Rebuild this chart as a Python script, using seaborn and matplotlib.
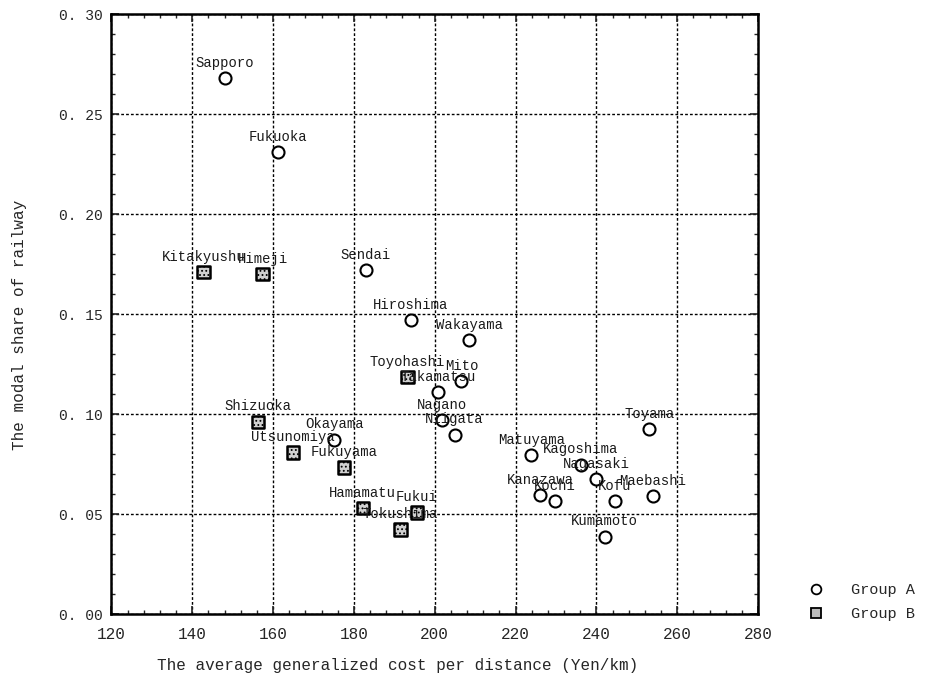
import matplotlib
matplotlib.use("Agg")
import matplotlib.pyplot as plt
from matplotlib.ticker import MultipleLocator
from matplotlib.lines import Line2D
import pandas as pd
import seaborn as sns

# Group A cities (open circles)
cities_a = ['Sapporo', 'Fukuoka', 'Sendai', 'Hiroshima', 'Wakayama', 'Mito',
            'Takamatsu', 'Nagano', 'Niigata', 'Okayama', 'Matuyama', 'Kagoshima',
            'Nagasaki', 'Kanazawa', 'Kochi', 'Kofu', 'Maebashi', 'Toyama', 'Kumamoto']
cost_a = [148.0, 161.2, 182.9, 194.1, 208.5, 206.6, 200.8, 201.8, 204.9, 175.1,
          223.9, 236.1, 239.9, 226.1, 229.8, 244.5, 254.0, 253.1, 242.0]
share_a = [0.268, 0.231, 0.172, 0.147, 0.137, 0.1165, 0.111, 0.097, 0.0897, 0.0873,
           0.0795, 0.0747, 0.0673, 0.0593, 0.0563, 0.0565, 0.059, 0.0925, 0.0387]

# Group B cities (hatched squares)
cities_b = ['Kitakyushu', 'Himeji', 'Toyohashi', 'Shizuoka', 'Utsunomiya',
            'Fukuyama', 'Hamamatu', 'Fukui', 'Tokushima']
cost_b = [142.8, 157.4, 193.3, 156.3, 165.0, 177.6, 182.2, 195.6, 191.5]
share_b = [0.171, 0.170, 0.1185, 0.0962, 0.0807, 0.0732, 0.0529, 0.0508, 0.0423]

xticks = [120, 140, 160, 180, 200, 220, 240, 260, 280]
yticks = [0.00, 0.05, 0.10, 0.15, 0.20, 0.25, 0.30]
ytick_labels = ['0. 00', '0. 05', '0. 10', '0. 15', '0. 20', '0. 25', '0. 30']

df_a = pd.DataFrame({'city': cities_a, 'cost': cost_a, 'share': share_a})
df_b = pd.DataFrame({'city': cities_b, 'cost': cost_b, 'share': share_b})

sns.set_style('ticks')
plt.rcParams['font.family'] = ['Liberation Mono', 'DejaVu Sans']
plt.rcParams['hatch.linewidth'] = 0.8

fig = plt.figure(figsize=(9.28, 6.8), dpi=100)
ax = fig.add_axes([0.120, 0.097, 0.697, 0.882])

sns.scatterplot(data=df_a, x='cost', y='share', ax=ax, marker='o', s=75,
                facecolor='white', edgecolor='black', linewidth=1.5, zorder=3)
sns.scatterplot(data=df_b, x='cost', y='share', ax=ax, marker='s', s=80,
                facecolor='#d0d0d0', edgecolor='black', linewidth=1.8, zorder=3)
ax.collections[-1].set_hatch('....')

for df in (df_a, df_b):
    for _, r in df.iterrows():
        ax.annotate(r['city'], (r['cost'], r['share']), xytext=(0, 11),
                    textcoords='offset points', ha='center', va='center',
                    fontsize=10, color='#1a1a1a', zorder=4)

ax.set_xlim(120, 280)
ax.set_ylim(0, 0.30)
ax.set_xticks(xticks)
ax.set_yticks(yticks)
ax.set_yticklabels(ytick_labels)
ax.xaxis.set_minor_locator(MultipleLocator(4))
ax.yaxis.set_minor_locator(MultipleLocator(0.01))
ax.tick_params(which='both', direction='in', top=True, right=True, labelsize=10.5)
ax.tick_params(which='major', length=6, width=1.2)
ax.tick_params(axis='x', which='major', pad=9, labelsize=11.5)
ax.tick_params(axis='y', which='major', pad=6)
ax.tick_params(which='minor', length=3, width=1.0)
ax.grid(True, which='major', color='black', linestyle=(0, (2, 1.5)), linewidth=1.0)
for s in ax.spines.values():
    s.set_linewidth(1.8)
    s.set_color('black')

ax.set_xlabel('The average generalized cost per distance (Yen/km)', fontsize=11.5)
ax.set_ylabel('The modal share of railway', fontsize=11.5)
ax.xaxis.set_label_coords(0.443, -0.073)
ax.yaxis.set_label_coords(-0.130, 0.482)

handles = [
    Line2D([], [], marker='o', linestyle='none', markersize=7, markerfacecolor='white',
           markeredgecolor='black', markeredgewidth=1.3),
    Line2D([], [], marker='s', linestyle='none', markersize=7, markerfacecolor='#bbbbbb',
           markeredgecolor='black', markeredgewidth=1.3),
]
fig.legend(handles, ['Group A', 'Group B'], loc='lower left', bbox_to_anchor=(0.848, 0.066),
           frameon=False, fontsize=11, handletextpad=1.3, labelspacing=0.65)

fig.savefig('out.png', dpi=100)
